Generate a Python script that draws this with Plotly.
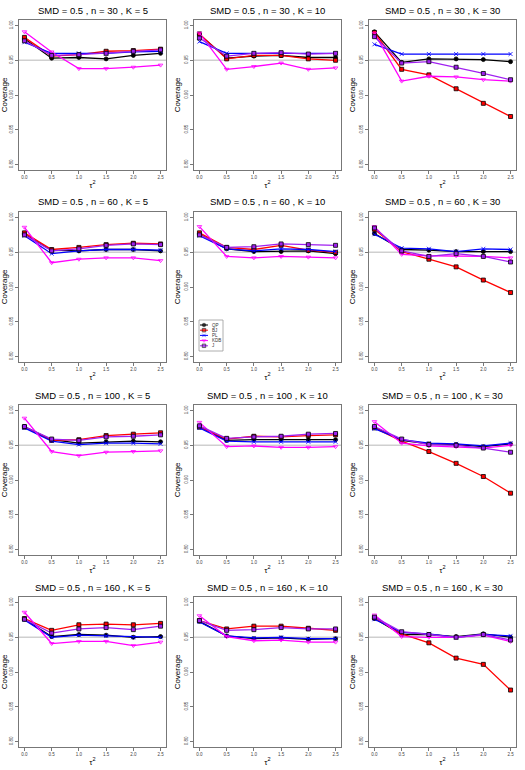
import plotly.graph_objects as go
from plotly.subplots import make_subplots

# x values (tau^2) and panel settings
TAU2 = [0.0, 0.5, 1.0, 1.5, 2.0, 2.5]
N_VALUES = [30, 60, 100, 160]
K_VALUES = [5, 10, 30]
SMD = 0.5
NOMINAL = 0.95

# coverage, keyed by (n, K)
QP = {
    (30, 5): [0.981, 0.953, 0.954, 0.952, 0.957, 0.960],
    (30, 10): [0.987, 0.953, 0.956, 0.957, 0.954, 0.954],
    (30, 30): [0.991, 0.947, 0.952, 0.952, 0.951, 0.948],
    (60, 5): [0.976, 0.953, 0.952, 0.954, 0.954, 0.952],
    (60, 10): [0.976, 0.955, 0.951, 0.951, 0.952, 0.948],
    (60, 30): [0.977, 0.954, 0.953, 0.951, 0.951, 0.951],
    (100, 5): [0.977, 0.958, 0.953, 0.955, 0.956, 0.955],
    (100, 10): [0.977, 0.957, 0.958, 0.958, 0.958, 0.958],
    (100, 30): [0.976, 0.957, 0.952, 0.951, 0.948, 0.952],
    (160, 5): [0.976, 0.951, 0.954, 0.953, 0.950, 0.951],
    (160, 10): [0.973, 0.952, 0.948, 0.949, 0.947, 0.948],
    (160, 30): [0.977, 0.954, 0.954, 0.951, 0.955, 0.950],
}
BJ = {
    (30, 5): [0.983, 0.956, 0.958, 0.963, 0.964, 0.966],
    (30, 10): [0.988, 0.952, 0.957, 0.957, 0.952, 0.950],
    (30, 30): [0.990, 0.937, 0.929, 0.909, 0.888, 0.869],
    (60, 5): [0.978, 0.954, 0.957, 0.961, 0.963, 0.962],
    (60, 10): [0.978, 0.957, 0.954, 0.960, 0.953, 0.950],
    (60, 30): [0.983, 0.951, 0.940, 0.929, 0.910, 0.892],
    (100, 5): [0.976, 0.957, 0.958, 0.964, 0.966, 0.968],
    (100, 10): [0.976, 0.959, 0.963, 0.962, 0.964, 0.965],
    (100, 30): [0.975, 0.956, 0.941, 0.924, 0.905, 0.881],
    (160, 5): [0.977, 0.960, 0.968, 0.969, 0.968, 0.970],
    (160, 10): [0.974, 0.962, 0.966, 0.966, 0.963, 0.960],
    (160, 30): [0.978, 0.955, 0.942, 0.920, 0.911, 0.874],
}
PL = {
    (30, 5): [0.976, 0.960, 0.960, 0.960, 0.962, 0.963],
    (30, 10): [0.977, 0.960, 0.960, 0.960, 0.959, 0.960],
    (30, 30): [0.973, 0.959, 0.959, 0.959, 0.959, 0.959],
    (60, 5): [0.974, 0.948, 0.952, 0.954, 0.954, 0.953],
    (60, 10): [0.974, 0.955, 0.952, 0.955, 0.954, 0.951],
    (60, 30): [0.976, 0.956, 0.955, 0.951, 0.955, 0.954],
    (100, 5): [0.975, 0.956, 0.951, 0.953, 0.953, 0.952],
    (100, 10): [0.975, 0.956, 0.955, 0.955, 0.955, 0.955],
    (100, 30): [0.974, 0.958, 0.953, 0.952, 0.949, 0.953],
    (160, 5): [0.975, 0.950, 0.953, 0.952, 0.950, 0.950],
    (160, 10): [0.972, 0.952, 0.949, 0.950, 0.948, 0.948],
    (160, 30): [0.976, 0.957, 0.955, 0.950, 0.954, 0.952],
}
KDB = {
    (30, 5): [0.991, 0.962, 0.938, 0.938, 0.940, 0.943],
    (30, 10): [0.989, 0.937, 0.941, 0.946, 0.937, 0.939],
    (30, 30): [0.989, 0.920, 0.927, 0.926, 0.922, 0.920],
    (60, 5): [0.986, 0.935, 0.940, 0.942, 0.942, 0.938],
    (60, 10): [0.987, 0.944, 0.942, 0.944, 0.943, 0.942],
    (60, 30): [0.987, 0.947, 0.945, 0.945, 0.944, 0.942],
    (100, 5): [0.989, 0.941, 0.935, 0.940, 0.941, 0.942],
    (100, 10): [0.983, 0.948, 0.949, 0.947, 0.947, 0.948],
    (100, 30): [0.984, 0.953, 0.949, 0.948, 0.946, 0.950],
    (160, 5): [0.986, 0.941, 0.944, 0.944, 0.938, 0.943],
    (160, 10): [0.981, 0.951, 0.945, 0.946, 0.943, 0.943],
    (160, 30): [0.982, 0.951, 0.950, 0.950, 0.953, 0.944],
}
J = {
    (30, 5): [0.978, 0.957, 0.958, 0.960, 0.963, 0.965],
    (30, 10): [0.982, 0.956, 0.960, 0.961, 0.959, 0.960],
    (30, 30): [0.984, 0.946, 0.948, 0.940, 0.931, 0.922],
    (60, 5): [0.975, 0.952, 0.955, 0.960, 0.962, 0.961],
    (60, 10): [0.975, 0.957, 0.958, 0.962, 0.961, 0.960],
    (60, 30): [0.985, 0.952, 0.944, 0.948, 0.944, 0.936],
    (100, 5): [0.977, 0.959, 0.957, 0.962, 0.963, 0.965],
    (100, 10): [0.978, 0.960, 0.962, 0.963, 0.966, 0.967],
    (100, 30): [0.977, 0.959, 0.951, 0.950, 0.946, 0.940],
    (160, 5): [0.976, 0.956, 0.962, 0.964, 0.961, 0.966],
    (160, 10): [0.974, 0.960, 0.961, 0.964, 0.962, 0.962],
    (160, 30): [0.979, 0.958, 0.954, 0.950, 0.954, 0.946],
}

METHODS = [
    ("QP", QP, "black", "circle"),
    ("BJ", BJ, "red", "square"),
    ("PL", PL, "blue", "x-thin-open"),
    ("KDB", KDB, "magenta", "triangle-down-open"),
    ("J", J, "#A020F0", "square"),
]

FONT = "Liberation Sans, Arial, sans-serif"
W, H = 525, 770
COL_PX = [(19, 166), (194, 341), (369, 516)]
ROW_PX = [(20, 170), (212, 362), (405, 555), (597, 747)]
# little legend box inside the middle panel (pixels)
LEG_X, LEG_Y = (199, 223), (320, 351)


def marker_style(color, symbol, size=4):
    edge = color if "open" in symbol else "black"
    return dict(symbol=symbol, size=size, color=color, line=dict(color=edge, width=0.8))


fig = make_subplots(rows=4, cols=3)

for r, n in enumerate(N_VALUES):
    for c, k in enumerate(K_VALUES):
        for name, data, color, symbol in METHODS:
            fig.add_trace(
                go.Scatter(
                    x=TAU2, y=data[(n, k)], name=name, mode="lines+markers",
                    line=dict(color=color, width=1.3),
                    marker=marker_style(color, symbol),
                    showlegend=False,
                ),
                row=r + 1, col=c + 1,
            )
        idx = r * 3 + c + 1
        sfx = "" if idx == 1 else str(idx)
        fig.add_shape(type="line", xref=f"x{sfx} domain", yref=f"y{sfx}",
                      x0=0, x1=1, y0=NOMINAL, y1=NOMINAL, layer="below",
                      line=dict(color="#cfcfcf", width=1.5))
        x0, x1 = COL_PX[c]
        y0, y1 = ROW_PX[r]
        fig.add_annotation(text=f"SMD = {SMD} , n = {n} , K = {k}",
                           xref="paper", yref="paper", x=(x0 + x1) / 2 / W,
                           y=1 - (y0 - 10) / H, showarrow=False,
                           font=dict(size=9.5, color="black", family=FONT),
                           xanchor="center", yanchor="middle")
        fig.update_xaxes(domain=[x0 / W, x1 / W], row=r + 1, col=c + 1)
        fig.update_yaxes(domain=[1 - y1 / H, 1 - y0 / H], row=r + 1, col=c + 1)

fig.update_xaxes(range=[-0.1, 2.6], tickvals=TAU2, ticktext=["%.1f" % t for t in TAU2],
                 showgrid=False, zeroline=False, showline=True, mirror=True,
                 linecolor="#777777", linewidth=1, ticks="outside", ticklen=3,
                 tickcolor="#777777", tickfont=dict(size=4.5, color="#444444"),
                 title=dict(text="τ<sup>2</sup>", font=dict(size=8, color="black"), standoff=2))
fig.update_yaxes(range=[0.792, 1.008], tickvals=[0.80, 0.85, 0.90, 0.95, 1.00],
                 ticktext=["0.80", "0.85", "0.90", "0.95", "1.00"], tickangle=-90,
                 showgrid=False, zeroline=False, showline=True, mirror=True,
                 linecolor="#777777", linewidth=1, ticks="outside", ticklen=3,
                 tickcolor="#777777", tickfont=dict(size=4.5, color="#444444"),
                 title=dict(text="Coverage", font=dict(size=8, color="black"), standoff=2))

# hand-made small legend (plotly's own legend cannot get this small)
fig.add_shape(type="rect", xref="paper", yref="paper",
              x0=LEG_X[0] / W, x1=LEG_X[1] / W, y0=1 - LEG_Y[1] / H, y1=1 - LEG_Y[0] / H,
              line=dict(color="#999999", width=0.8), fillcolor="rgba(0,0,0,0)", layer="above")
for i, (name, data, color, symbol) in enumerate(METHODS):
    yy = 5 + 5.2 * i
    fig.add_trace(go.Scatter(x=[1, 5, 9], y=[yy] * 3, mode="lines+markers",
                             line=dict(color=color, width=1),
                             marker=marker_style(color, symbol, size=[0, 3.5, 0]),
                             xaxis="x13", yaxis="y13", showlegend=False, hoverinfo="skip"))
    fig.add_annotation(text=name, xref="x13", yref="y13", x=11, y=yy, showarrow=False,
                       xanchor="left", yanchor="middle",
                       font=dict(size=4.5, color="#333333", family=FONT))

fig.update_layout(
    width=W, height=H, margin=dict(l=0, r=0, t=0, b=0),
    paper_bgcolor="white", plot_bgcolor="white",
    font=dict(family=FONT),
    showlegend=False,
    xaxis13=dict(domain=[LEG_X[0] / W, LEG_X[1] / W], range=[0, LEG_X[1] - LEG_X[0]],
                 visible=False, anchor="y13", fixedrange=True),
    yaxis13=dict(domain=[1 - LEG_Y[1] / H, 1 - LEG_Y[0] / H], range=[LEG_Y[1] - LEG_Y[0], 0],
                 visible=False, anchor="x13", fixedrange=True),
)

fig.write_html("out.html", config={"displayModeBar": False},
               post_script="document.body.style.margin='0';")
